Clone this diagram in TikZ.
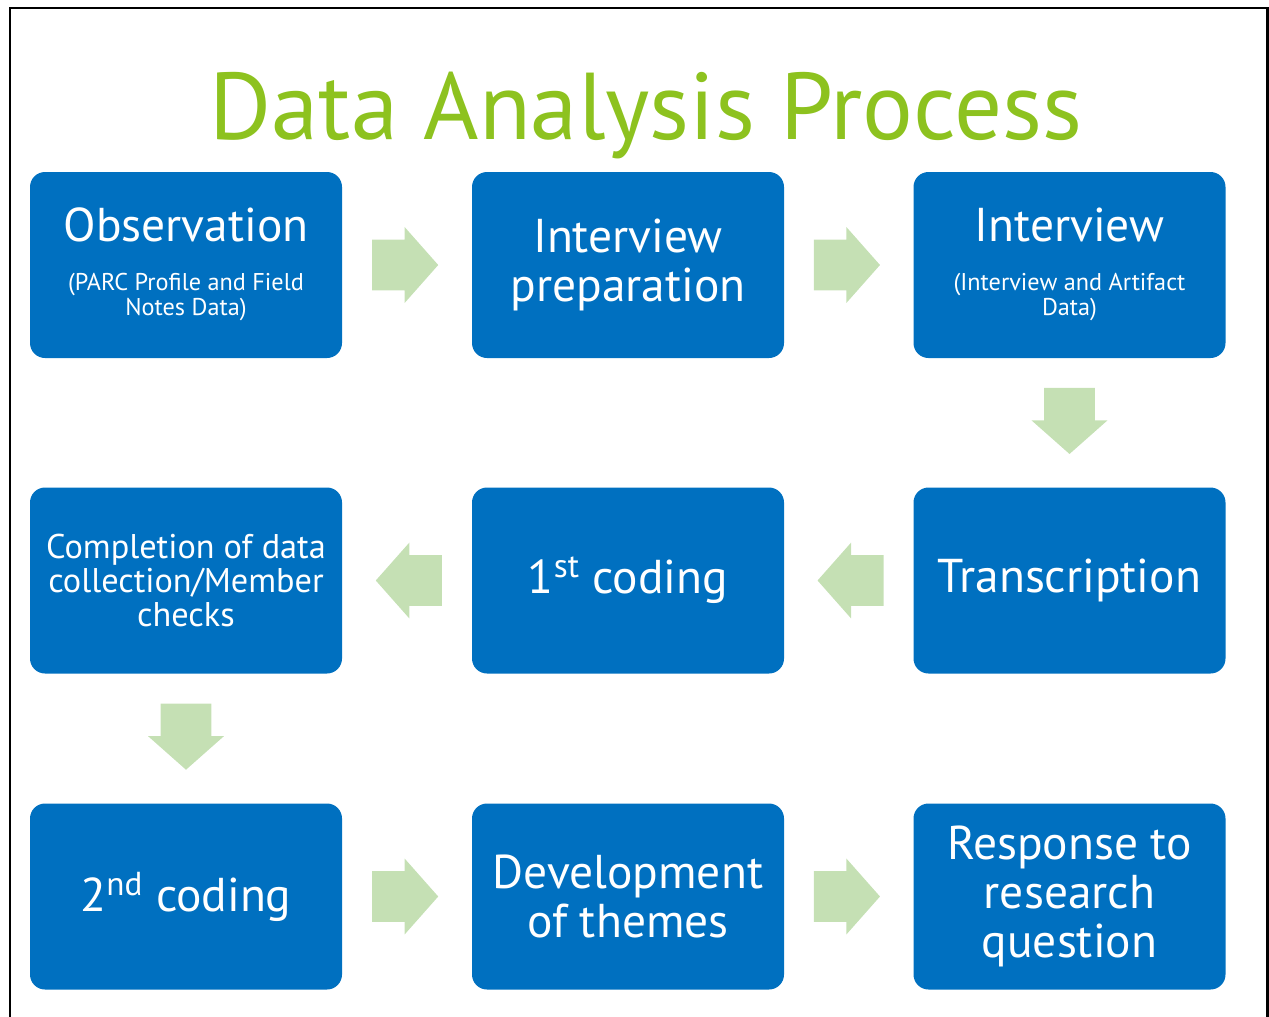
\documentclass[tikz,border=0pt]{standalone}
\usepackage{fontspec}
\setmainfont{PT Sans}
\usetikzlibrary{shapes,arrows,positioning,calc}
\definecolor{boxblue}{HTML}{0070C0}
\definecolor{titlegreen}{HTML}{8DC21F}
\definecolor{arrowgreen}{HTML}{C5E0B4}
\newcommand\subtext[1]{{\fontsize{13.8}{13.6}\selectfont\begin{tabular}{@{}c@{}}#1\end{tabular}}}

\tikzset{
  stepbox/.style={fill=boxblue, rounded corners=0.3cm, minimum width=6.24cm,
    minimum height=3.72cm, text=white, align=center, inner sep=2pt,
    font=\fontsize{27}{27.8}\selectfont},
  garrow/.style={single arrow, fill=arrowgreen, draw=none, inner xsep=0pt,
    inner ysep=0.5cm, minimum width=0pt, minimum height=1.32cm,
    single arrow head extend=0.25cm, single arrow tip angle=97,
    single arrow head indent=0pt}
}

\begin{document}
\begin{tikzpicture}
  \useasboundingbox (0,0) rectangle (25.38,-20.32);
  \draw[line width=1.2pt] (0.2,-0.16) rectangle (25.35,-20.6);

  \node[text=titlegreen, font=\fontsize{54}{60}\selectfont] (title) at (12.92,-2.30) {Data Analysis Process};

  % first row
  \node[stepbox] (obs) at (3.72,-5.30) {Observation\\[8pt]\subtext{(PARC Profile and Field\\Notes Data)}};
  \node[stepbox] (prep) at (12.56,-5.30) {Interview\\preparation};
  \node[stepbox] (intv) at (21.39,-5.30) {Interview\\[8pt]\subtext{(Interview and Artifact\\Data)}};
  % second row
  \node[stepbox, font=\fontsize{19.5}{19.3}\selectfont] (compl) at (3.72,-11.61) {Completion of data\\collection/Member\\checks};
  \node[stepbox] (code1) at (12.56,-11.61) {1\textsuperscript{st} coding};
  \node[stepbox] (trans) at (21.39,-11.61) {Transcription};
  % third row
  \node[stepbox] (code2) at (3.72,-17.93) {2\textsuperscript{nd} coding};
  \node[stepbox] (themes) at (12.56,-17.93) {Development\\of themes};
  \node[stepbox] (resp) at (21.39,-17.93) {Response to\\research\\question};

  % block arrows
  \foreach \a/\b/\r in {obs/prep/0, prep/intv/0, code2/themes/0, themes/resp/0,
                        trans/code1/180, code1/compl/180, intv/trans/-90, compl/code2/-90} {
    \node[garrow, rotate=\r, xshift=-0.26cm] (\a-\b) at ($(\a)!0.5!(\b)$) {};
  }
\end{tikzpicture}
\end{document}
